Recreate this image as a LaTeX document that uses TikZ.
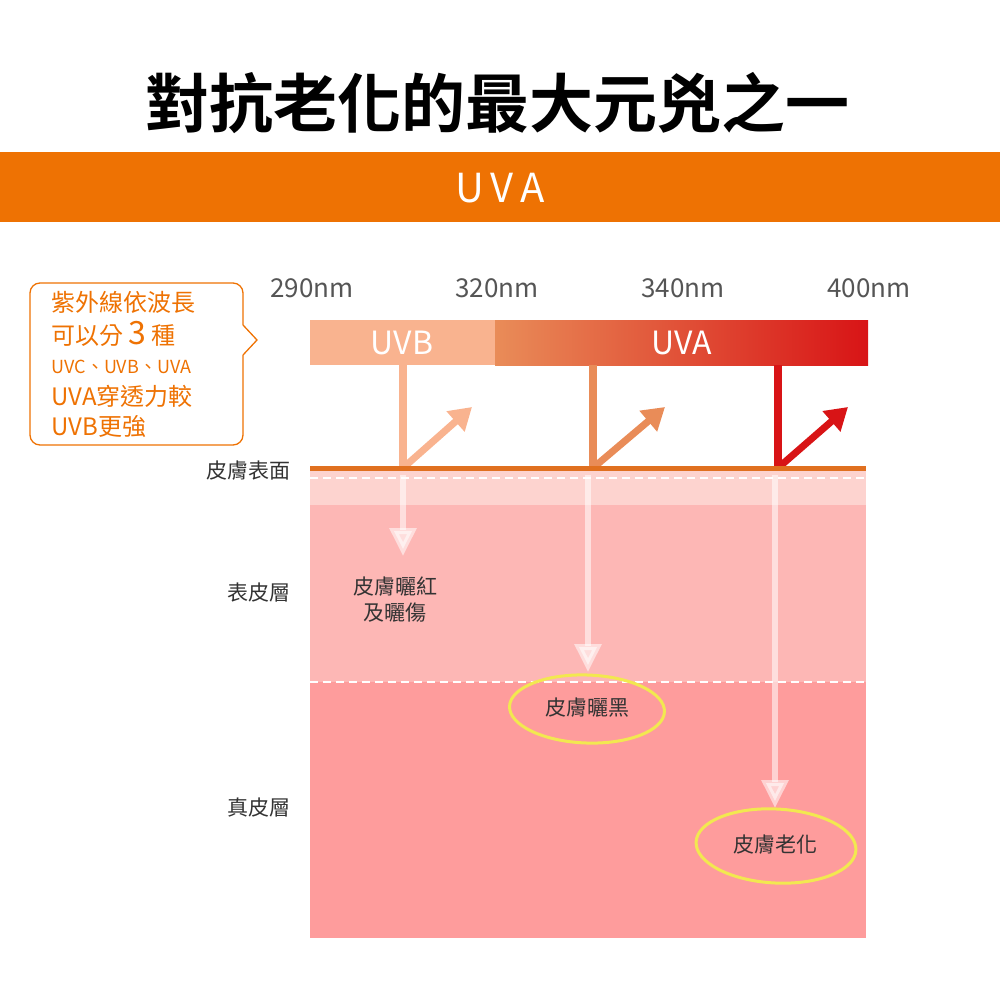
\documentclass[tikz,border=0pt]{standalone}
\usepackage{fontspec}
\setmainfont{Noto Sans CJK TC}
\newfontfamily\cjkb{Noto Sans CJK TC}[BoldFont={* Bold}]
\usetikzlibrary{arrows.meta,shapes.geometric}
\definecolor{orangeband}{HTML}{EE7203}
\definecolor{uvb}{HTML}{F9B38F}
\definecolor{uvamid}{HTML}{E98C58}
\definecolor{uvared}{HTML}{D81416}
\definecolor{surf}{HTML}{E07020}
\definecolor{p1}{HTML}{FDD3CF}
\definecolor{p2}{HTML}{FDB7B5}
\definecolor{p3}{HTML}{FE9C9C}
\definecolor{txtg}{HTML}{333333}
\definecolor{nmg}{HTML}{555555}
\definecolor{ylw}{HTML}{F2E850}
\tikzset{
  nm/.style={text=nmg,font=\fontsize{26}{28}\selectfont},
  lay/.style={text=txtg,font=\fontsize{21}{24}\selectfont,anchor=east},
  eff/.style={text=txtg,font=\fontsize{21}{26}\selectfont,align=center},
  up/.style={line width=7pt,-{Triangle[length=22pt,width=26pt]}},
  down/.style={line width=6pt,draw=white,opacity=0.55,-{Triangle[length=28pt,width=26pt]}},
  ring/.style={draw=ylw,line width=3pt,ellipse},
  co/.style={text=orangeband,anchor=west}
}
\begin{document}
\begin{tikzpicture}[x=1pt,y=-1pt]
\useasboundingbox (0,0) rectangle (1000,1000);
\node[font=\cjkb\bfseries\fontsize{64}{66}\selectfont] (title) at (497,103) {對抗老化的最大元兇之一};
\fill[orangeband] (0,152) rectangle (1000,222);
\node[text=white,font=\fontsize{40}{42}\selectfont] (uvatitle) at (500,188) {U\,V\,A};
% layers
\fill[p1] (310,470) rectangle (866,505);
\fill[p2] (310,505) rectangle (866,682);
\fill[p3] (310,682) rectangle (866,938);
\draw[white,dashed,dash pattern=on 8pt off 5pt,line width=1.5pt] (310,478) -- (866,478);
\draw[white,dashed,dash pattern=on 8pt off 5pt,line width=1.5pt] (310,682) -- (866,682);
% bar
\fill[uvb] (310,320) rectangle (495,365);
\shade[left color=uvamid,right color=uvared] (495,320) rectangle (868,365);
\node[text=white,font=\fontsize{32}{34}\selectfont] (uvb) at (402,343) {UVB};
\node[text=white,font=\fontsize{32}{34}\selectfont] (uva) at (682,343) {UVA};
\node[nm] (n1) at (312,288) {290nm};
\node[nm] (n2) at (497,288) {320nm};
\node[nm] (n3) at (683,288) {340nm};
\node[nm] (n4) at (869,288) {400nm};
% coordinates
\coordinate (a1) at (403,468); \coordinate (a2) at (593,468); \coordinate (a3) at (778,468);
\coordinate (t1) at (403,365); \coordinate (t2) at (593,365); \coordinate (t3) at (778,365);
\coordinate (r1) at (472,407); \coordinate (r2) at (665,407); \coordinate (r3) at (848,407);
\draw[uvb,line width=8pt] (t1) -- (a1);
\draw[uvamid,line width=8pt] (t2) -- (a2);
\draw[uvared,line width=8pt] (t3) -- (a3);
\draw[up,uvb] (a1) -- (r1);
\draw[up,uvamid] (a2) -- (r2);
\draw[up,uvared] (a3) -- (r3);
\draw[surf,line width=5pt] (310,468) -- (866,468);
% down arrows
\coordinate (d1) at (403,556); \coordinate (d2) at (588,672); \coordinate (d3) at (775,808);
\coordinate (s1) at (403,475); \coordinate (s2) at (588,475); \coordinate (s3) at (775,475);
\draw[down] (s1) -- (d1);
\draw[down] (s2) -- (d2);
\draw[down] (s3) -- (d3);
% labels
\node[lay] (l1) at (294,471) {皮膚表面};
\node[lay] (l2) at (294,593) {表皮層};
\node[lay] (l3) at (294,808) {真皮層};
\node[eff] (e1) at (395,600) {皮膚曬紅\\及曬傷};
\node[eff] (e2) at (587,708) {皮膚曬黑};
\node[ring,minimum width=155pt,minimum height=68pt,rotate=-2] (o2) at (587,709) {};
\node[eff] (e3) at (775,845) {皮膚老化};
\node[ring,minimum width=160pt,minimum height=74pt,rotate=-3] (o3) at (776,846) {};
% callout
\draw[orangeband,line width=1.3pt,rounded corners=10pt] (243,325) -- (243,283) -- (30,283) -- (30,445) -- (243,445) -- (243,355);
\draw[orangeband,line width=1.3pt] (243,325) -- (257,340) -- (243,355);
\node[co,font=\fontsize{24}{26}\selectfont] (c1) at (48,302) {紫外線依波長};
\node[co,font=\fontsize{24}{26}\selectfont] (c2) at (48,334) {可以分{\fontsize{32}{32}\selectfont\,3\,}種};
\node[co,font=\fontsize{18}{20}\selectfont] (c3) at (48,367) {UVC、UVB、UVA};
\node[co,font=\fontsize{24}{26}\selectfont] (c4) at (48,396) {UVA穿透力較};
\node[co,font=\fontsize{24}{26}\selectfont] (c5) at (48,427) {UVB更強};
\end{tikzpicture}
\end{document}
